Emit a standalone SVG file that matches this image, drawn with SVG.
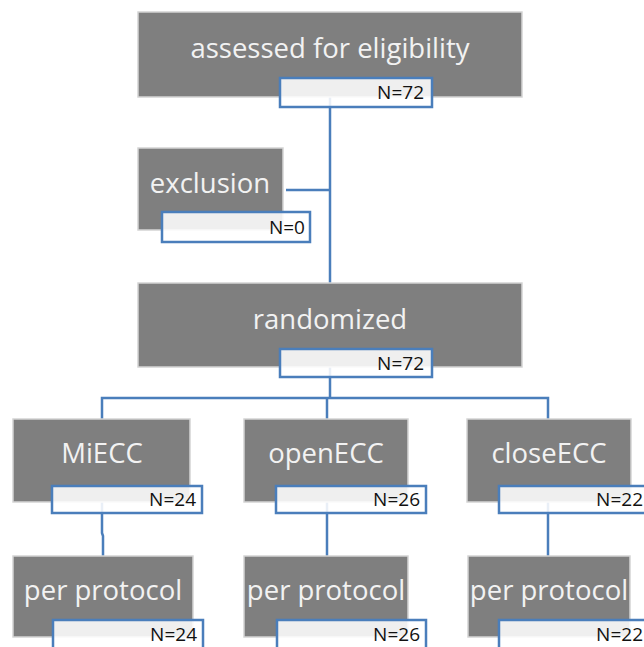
<svg xmlns="http://www.w3.org/2000/svg" width="644" height="647" viewBox="0 0 644 647">
  <style>
    .box { fill: #7f7f7f; stroke: #d4d4d4; stroke-width: 1.5; }
    .lbl { fill: #f2f2f2; font-family: "Open Sans", "Liberation Sans", sans-serif; font-size: 27.5px; text-anchor: middle; }
    .nbox { fill: #ffffff; fill-opacity: 0.88; stroke: #4a7ebb; stroke-width: 2.5; }
    .n { fill: #111111; font-family: "Open Sans", "Liberation Sans", sans-serif; font-size: 19px; text-anchor: end; }
    .conn { fill: none; stroke: #4a7ebb; stroke-width: 2.5; }
  </style>
  <rect width="644" height="647" fill="#ffffff"/>

  <g id="connectors">
    <path class="conn" d="M330 97 V283"/>
    <path class="conn" d="M286 190 H330"/>
    <path class="conn" d="M330 367 V398"/>
    <path class="conn" d="M102 419 V398 H548 V419"/>
    <path class="conn" d="M327 398 V419"/>
    <path class="conn" d="M102 502 V533 L103 536 V556"/>
    <path class="conn" d="M327 502 V556"/>
    <path class="conn" d="M548 502 V556"/>
  </g>

  <g id="assessed">
    <rect class="box" x="138" y="12" width="384" height="85"/>
    <text class="lbl" x="330" y="58">assessed for eligibility</text>
    <rect class="nbox" x="280" y="78" width="152" height="29"/>
    <text class="n" x="424" y="99">N=72</text>
  </g>

  <g id="exclusion">
    <rect class="box" x="138" y="148" width="145" height="82"/>
    <text class="lbl" x="210" y="193">exclusion</text>
    <rect class="nbox" x="162" y="212" width="148" height="30"/>
    <text class="n" x="305" y="234">N=0</text>
  </g>

  <g id="randomized">
    <rect class="box" x="138" y="283" width="384" height="84"/>
    <text class="lbl" x="330" y="329">randomized</text>
    <rect class="nbox" x="280" y="349" width="152" height="28"/>
    <text class="n" x="424" y="370">N=72</text>
  </g>

  <g id="miecc">
    <rect class="box" x="13" y="419" width="177" height="83"/>
    <text class="lbl" x="102" y="463">MiECC</text>
    <rect class="nbox" x="52" y="486" width="150" height="27"/>
    <text class="n" x="196" y="506">N=24</text>
  </g>

  <g id="openecc">
    <rect class="box" x="244" y="419" width="164" height="83"/>
    <text class="lbl" x="326" y="463">openECC</text>
    <rect class="nbox" x="276" y="486" width="150" height="27"/>
    <text class="n" x="420" y="506">N=26</text>
  </g>

  <g id="closeecc">
    <rect class="box" x="467" y="419" width="164" height="83"/>
    <text class="lbl" x="549" y="463">closeECC</text>
    <rect class="nbox" x="499" y="486" width="150" height="27"/>
    <text class="n" x="643" y="506">N=22</text>
  </g>

  <g id="pp-miecc">
    <rect class="box" x="13" y="556" width="180" height="81"/>
    <text class="lbl" x="103" y="600">per protocol</text>
    <rect class="nbox" x="53" y="620" width="150" height="30"/>
    <text class="n" x="197" y="641">N=24</text>
  </g>

  <g id="pp-openecc">
    <rect class="box" x="244" y="556" width="164" height="81"/>
    <text class="lbl" x="326" y="600">per protocol</text>
    <rect class="nbox" x="277" y="620" width="149" height="30"/>
    <text class="n" x="420" y="641">N=26</text>
  </g>

  <g id="pp-closeecc">
    <rect class="box" x="468" y="556" width="162" height="81"/>
    <text class="lbl" x="549" y="600">per protocol</text>
    <rect class="nbox" x="499" y="620" width="150" height="30"/>
    <text class="n" x="643" y="641">N=22</text>
  </g>
</svg>
